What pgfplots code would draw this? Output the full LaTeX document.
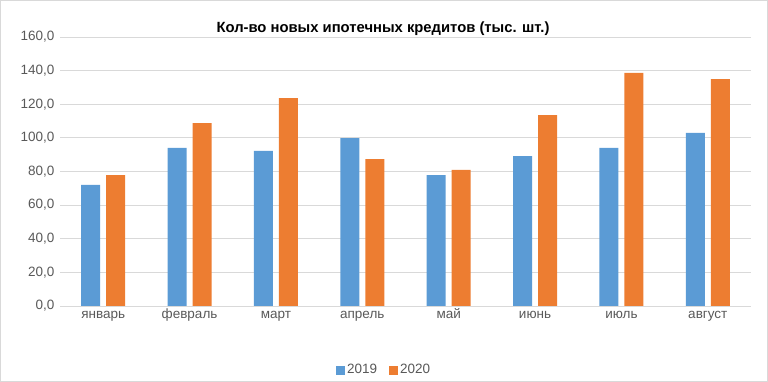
\documentclass[border=0pt]{standalone}
\usepackage{pgfplots}
\pgfplotsset{compat=1.18}
\usepackage{fontspec}
\setmainfont{Liberation Sans}
\definecolor{cblue}{HTML}{5B9BD5}
\definecolor{corange}{HTML}{ED7D31}
\definecolor{tgray}{HTML}{595959}
\definecolor{ggray}{HTML}{D9D9D9}
\begin{document}
\begin{tikzpicture}[x=1pt,y=1pt]
\useasboundingbox (0,0) rectangle (768,382);
\draw[ggray, line width=0.8pt] (0.4,0.4) rectangle (767.6,381.6);
\node[font=\fontsize{14.8}{17}\selectfont\bfseries, text=black] at (383,353.5) {Кол-во новых ипотечных кредитов (тыс. шт.)};
\begin{axis}[
  at={(60pt,76pt)}, anchor=south west,
  scale only axis, width=691pt, height=269pt,
  ybar, bar width=19pt,
  xmin=-0.5, xmax=7.5, ymin=0, ymax=160,
  ytick={0,20,...,160},
  xtick={0,...,7},
  xticklabels={январь,февраль,март,апрель,май,июнь,июль,август},
  axis line style={draw=none},
  axis x line*=bottom,
  x axis line style={draw=ggray, line width=0.8pt},
  ymajorgrids, grid style={ggray, line width=0.8pt},
  major tick length=0pt,
  tick label style={font=\fontsize{13.5}{15}\selectfont, text=tgray},
  /pgf/number format/assume math mode=true,
  yticklabel={\pgfmathprintnumber[fixed, fixed zerofill, precision=1, use comma]{\tick}},
  yticklabel style={xshift=-2pt},
  xticklabel style={anchor=base, yshift=-13pt},
  legend style={at={(0.469,-0.238)}, anchor=center, draw=none, legend columns=2,
    font=\fontsize{13.5}{15}\selectfont, text=tgray,
    /tikz/every even column/.append style={column sep=10pt}},
  legend image code/.code={\fill[#1] (-1pt,-4.5pt) rectangle (8pt,4.5pt);},
]
\addplot[fill=cblue, draw=none, bar shift=-12.5pt] coordinates {
 (0,72.0) (1,94.0) (2,92.2) (3,99.9) (4,77.9) (5,89.2) (6,94.0) (7,102.9)};
\addplot[fill=corange, draw=none, bar shift=12.5pt] coordinates {
 (0,77.9) (1,108.8) (2,123.7) (3,87.4) (4,80.9) (5,113.6) (6,138.6) (7,135.0)};
\legend{2019,2020}
\end{axis}
\end{tikzpicture}
\end{document}
